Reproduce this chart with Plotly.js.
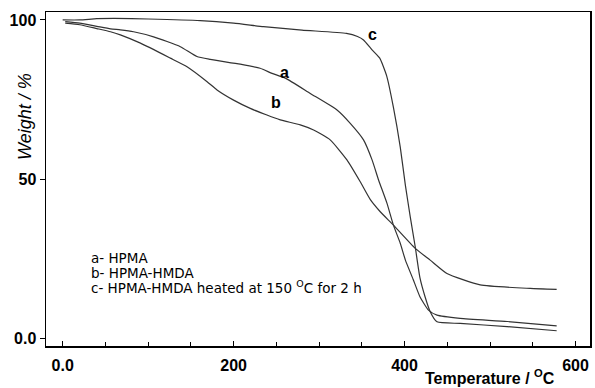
<!DOCTYPE html>
<html>
<head>
<meta charset="utf-8">
<script src="https://cdn.plot.ly/plotly-3.0.1.min.js"></script>
<style>html,body{margin:0;padding:0;background:#fff;}#chart{width:595px;height:388px;}</style>
</head>
<body>
<div id="chart"></div>
<script>
// Curve a: HPMA
const tempA = [3, 20, 40, 56, 67.5, 83, 106.4, 137.7, 157, 172.6, 207.8, 231, 245, 260.5, 289.7, 321, 336.5, 352, 362, 369.6, 379.4, 387, 395, 401, 410, 418, 428, 438, 465, 520, 578];
const weightA = [99.5, 99, 98, 97.2, 96.9, 96.3, 94.7, 91.6, 88.5, 87.6, 86.1, 84.8, 83.2, 81.7, 76.9, 71.7, 67.5, 62.3, 56, 49.7, 42.4, 35.5, 29.8, 24.5, 18.5, 13, 8.8, 7.2, 6.2, 5.2, 3.8];
// Curve b: HPMA-HMDA
const tempB = [3, 20, 40, 56, 67.5, 91, 126, 145.5, 169, 180.6, 200, 219.5, 239, 254.6, 278, 293.6, 313, 332.6, 348, 360, 371.6, 387, 412.5, 430, 449.6, 488.5, 547, 578];
const weightB = [99, 98.5, 97.3, 96.3, 95.3, 92.7, 88, 85.3, 80.6, 78, 74.8, 72.2, 70.1, 68.6, 67, 65.4, 62.3, 56, 49.2, 43.5, 39.7, 35.5, 28.2, 24.5, 20.3, 16.7, 15.6, 15.3];
// Curve c: HPMA-HMDA heated at 150 °C for 2 h
const tempC = [0, 20, 40, 60, 100, 161, 200, 235, 280, 332, 345, 352, 362, 371, 379, 387, 395, 401, 406.7, 412.5, 418, 424, 430, 438, 465, 520, 578];
const weightC = [100, 100, 100.4, 100.5, 100.3, 99.8, 99, 97.9, 96.8, 95.8, 94.8, 93.7, 90.6, 88, 82.5, 72.5, 60, 48, 38.1, 28.7, 19, 13, 8.3, 5.1, 4.6, 3.6, 2.3];

const xTickVals = [0, 200, 400, 600];
const xTickText = ['0.0', '200', '400', '600'];
const yTickVals = [0, 50, 100];
const yTickText = ['0.0', '50', '100'];

const curveLabels = ['a', 'b', 'c'];
const curveLabelX = [259, 250, 363];
const curveLabelY = [83.4, 73.9, 95.3];

const legendLines = ['a- HPMA', 'b- HPMA-HMDA', 'c- HPMA-HMDA heated at 150 <sup>O</sup>C for 2 h'];

const FONT = 'Liberation Sans, Arial, sans-serif';
const W = 595, H = 388, ML = 46, MR = 5, MT = 12, MB = 42;
const PW = W - ML - MR, PH = H - MT - MB;
const px2x = p => (p - ML) / PW;
const px2y = p => (H - MB - p) / PH;

const series = [[tempA, weightA], [tempB, weightB], [tempC, weightC]];
const traces = series.map(([x, y]) => ({
  x: x, y: y, type: 'scatter', mode: 'lines',
  line: {color: '#333', width: 1.2, shape: 'spline', smoothing: 0.5},
  hoverinfo: 'skip'
}));

const annotations = curveLabels.map((t, i) => ({
  x: curveLabelX[i], y: curveLabelY[i], xref: 'x', yref: 'y', text: t, showarrow: false,
  font: {family: FONT, size: 16, color: '#000', weight: 'bold'}
}));
const legendY = [258, 272.5, 287];
legendLines.forEach((t, i) => annotations.push({
  x: px2x(89), y: px2y(legendY[i]), xref: 'paper', yref: 'paper',
  xanchor: 'left', yanchor: 'middle', align: 'left', text: t, showarrow: false,
  font: {family: 'DejaVu Sans, sans-serif', size: 13.5, color: '#000'}
}));
annotations.push({
  x: px2x(25), y: px2y(117), xref: 'paper', yref: 'paper', xanchor: 'center', yanchor: 'middle',
  text: 'Weight / %', textangle: -90, showarrow: false,
  font: {family: FONT, size: 18, color: '#000', style: 'italic'}
});
annotations.push({
  x: px2x(490), y: px2y(389), xref: 'paper', yref: 'paper', xanchor: 'center', yanchor: 'bottom',
  text: 'Temperature / <sup>O</sup>C', showarrow: false,
  font: {family: FONT, size: 16, color: '#000', weight: 'bold'}
});

const layout = {
  width: W, height: H,
  margin: {l: ML, r: MR, t: MT, b: MB},
  paper_bgcolor: '#fff', plot_bgcolor: '#fff',
  showlegend: false,
  font: {family: FONT, color: '#000'},
  xaxis: {
    range: [-19.5, 617], tickvals: xTickVals, ticktext: xTickText,
    ticks: 'inside', ticklen: 5, tickcolor: '#000', tickwidth: 1,
    minor: {dtick: 50, tick0: 0, ticks: 'inside', ticklen: 4, tickcolor: '#000'},
    showgrid: false, zeroline: false,
    showline: true, linecolor: '#000', linewidth: 1.5, mirror: true,
    tickfont: {family: FONT, size: 16, color: '#000', weight: 'bold'},
    ticklabelstandoff: 4
  },
  yaxis: {
    range: [-2.5, 102.5], tickvals: yTickVals, ticktext: yTickText,
    ticks: 'outside', ticklen: 5, tickcolor: '#000', tickwidth: 1,
    showgrid: false, zeroline: false,
    showline: true, linecolor: '#000', linewidth: 1.5, mirror: true,
    tickfont: {family: FONT, size: 16, color: '#000', weight: 'bold'}
  },
  annotations: annotations
};

Plotly.newPlot('chart', traces, layout, {staticPlot: true, displayModeBar: false});
</script>
</body>
</html>
